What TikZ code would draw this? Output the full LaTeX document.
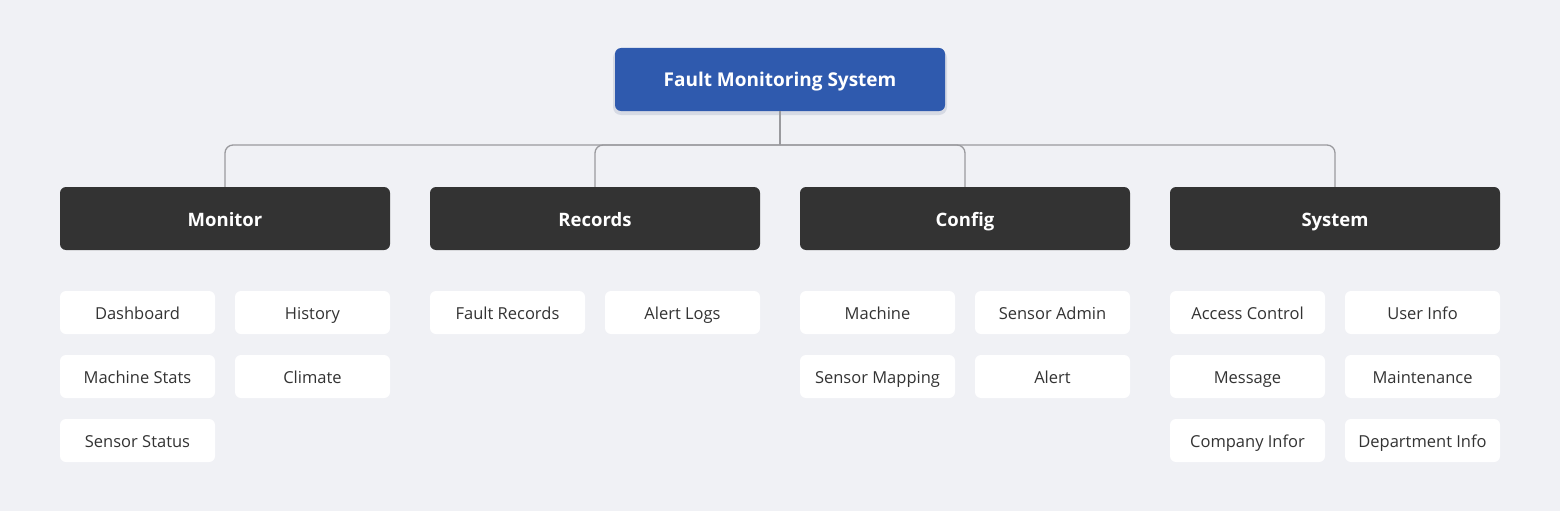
\documentclass[tikz,border=0pt]{standalone}
\usepackage{fontspec}
\setmainfont{Open Sans}
\definecolor{bgc}{HTML}{F0F1F5}
\definecolor{rootc}{HTML}{2F5AAE}
\definecolor{catc}{HTML}{333333}
\definecolor{txtc}{HTML}{333333}
\definecolor{linec}{HTML}{9A9A9E}
\definecolor{shadc}{HTML}{D6DAE4}
\begin{document}
\begin{tikzpicture}[x=1pt,y=-1pt,
  rootbox/.style={fill=rootc, rounded corners=6pt, minimum width=330pt, minimum height=63pt, inner sep=0pt, text height=14.4pt, text depth=0pt, text=white, font=\fontsize{19}{22}\selectfont\bfseries},
  catbox/.style={fill=catc, rounded corners=6pt, minimum width=330pt, minimum height=63pt, inner sep=0pt, text height=15.5pt, text depth=0pt, text=white, font=\fontsize{18.5}{22}\selectfont\bfseries},
  leaf/.style={fill=white, rounded corners=6pt, minimum width=155pt, minimum height=43pt, inner sep=0pt, text height=13.6pt, text depth=0pt, text=txtc, font=\fontsize{16.5}{19}\selectfont},
  conn/.style={draw=linec, line width=1.3pt, rounded corners=8pt}
]
\fill[bgc] (0,0) rectangle (1560,511);
\useasboundingbox (0,0) rectangle (1560,511);
% shadow
\fill[shadc, rounded corners=8pt] (613,50) rectangle (947,115);
\node[rootbox] (root) at (780,79.5) {Fault Monitoring System};
\node[catbox] (mon) at (225,218.5) {Monitor};
\node[catbox] (rec) at (595,218.5) {Records};
\node[catbox] (cfg) at (965,218.5) {Config};
\node[catbox] (sys) at (1335,218.5) {System};
\coordinate (bus) at (root.south |- 0,145);
\draw[conn] (root.south) -- (bus);
\draw[conn] (bus) -| (mon.north);
\draw[conn] (bus) -| (rec.north);
\draw[conn] (bus) -| (cfg.north);
\draw[conn] (bus) -| (sys.north);
% Monitor
\node[leaf] (m1) at (137.5,312.5) {Dashboard};
\node[leaf] (m2) at (312.5,312.5) {History};
\node[leaf] (m3) at (137.5,376.5) {Machine Stats};
\node[leaf] (m4) at (312.5,376.5) {Climate};
\node[leaf] (m5) at (137.5,440.5) {Sensor Status};
% Records
\node[leaf] (r1) at (507.5,312.5) {Fault Records};
\node[leaf] (r2) at (682.5,312.5) {Alert Logs};
% Config
\node[leaf] (c1) at (877.5,312.5) {Machine};
\node[leaf] (c2) at (1052.5,312.5) {Sensor Admin};
\node[leaf] (c3) at (877.5,376.5) {Sensor Mapping};
\node[leaf] (c4) at (1052.5,376.5) {Alert};
% System
\node[leaf] (s1) at (1247.5,312.5) {Access Control};
\node[leaf] (s2) at (1422.5,312.5) {User Info};
\node[leaf] (s3) at (1247.5,376.5) {Message};
\node[leaf] (s4) at (1422.5,376.5) {Maintenance};
\node[leaf] (s5) at (1247.5,440.5) {Company Infor};
\node[leaf] (s6) at (1422.5,440.5) {Department Info};
\end{tikzpicture}
\end{document}
